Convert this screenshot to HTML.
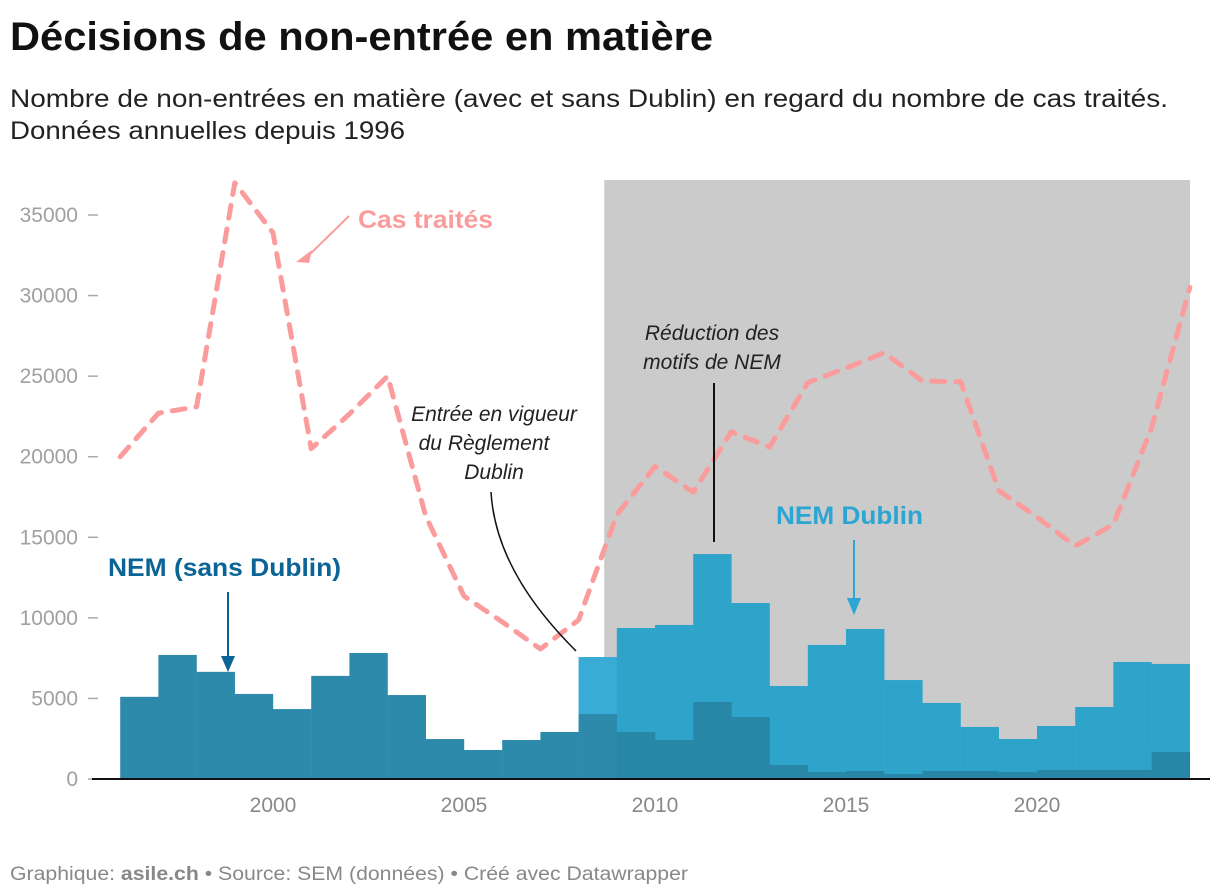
<!DOCTYPE html>
<html><head><meta charset="utf-8"><style>
body{margin:0;background:#fff;font-family:"Liberation Sans",sans-serif;}
</style></head><body>
<svg width="1220" height="896" style="display:block">
<text x="10" y="50" font-size="40" font-weight="bold" fill="#111" textLength="703" lengthAdjust="spacingAndGlyphs">Décisions de non-entrée en matière</text>
<text x="10" y="107" font-size="25" fill="#222" textLength="1158" lengthAdjust="spacingAndGlyphs">Nombre de non-entrées en matière (avec et sans Dublin) en regard du nombre de cas traités.</text>
<text x="10" y="139" font-size="25" fill="#222" textLength="395" lengthAdjust="spacingAndGlyphs">Données annuelles depuis 1996</text>
<g id="plot"></g>
<text x="10" y="880" font-size="19" fill="#888" textLength="678" lengthAdjust="spacingAndGlyphs">Graphique: <tspan font-weight="bold">asile.ch</tspan> • Source: SEM (données) • Créé avec Datawrapper</text>
</svg>
<script>
const years=[1996,1997,1998,1999,2000,2001,2002,2003,2004,2005,2006,2007,2008,2009,2010,2011,2012,2013,2014,2015,2016,2017,2018,2019,2020,2021,2022,2023];
const nemSansDublin=[5100,7700,6650,5280,4340,6400,7820,5210,2480,1800,2420,2920,4030,2920,2420,4780,3850,870,430,500,310,500,500,430,560,560,560,1680];
const nemTotal=[null,null,null,null,null,null,null,null,null,null,null,null,7570,9370,9560,13960,10920,5770,8320,9310,6140,4720,3230,2480,3290,4470,7260,7140];
const lineYears=[1996,1997,1998,1999,2000,2001,2002,2003,2004,2005,2006,2007,2008,2009,2010,2011,2012,2013,2014,2015,2016,2017,2018,2019,2020,2021,2022,2023,2024];
const casTraites=[20000,22700,23100,37000,33900,20500,22650,25000,16300,11350,9750,8070,9870,16400,19400,17800,21550,20600,24600,25500,26450,24700,24650,17900,16250,14460,15800,21800,30500];
const yTicks=[0,5000,10000,15000,20000,25000,30000,35000];
const xTicks=[2000,2005,2010,2015,2020];
const NS="http://www.w3.org/2000/svg";
const X=y=>273+(y-2000)*38.2;
const Y=v=>779-v*80.57/5000;
const g=document.getElementById('plot');
function mk(t,a,p){const e=document.createElementNS(NS,t);for(const k in a)e.setAttribute(k,a[k]);(p||g).appendChild(e);return e;}
let e=mk('rect',{x:X(2008.67),y:180,width:1190-X(2008.67),height:599,fill:'#cbcbcb'});


yTicks.forEach(t=>{
 let l=mk('line',{x1:88,x2:98,y1:Y(t),y2:Y(t),stroke:'#aaa','stroke-width':1.5});
 
 
 let tx=mk('text',{x:78,y:Y(t)+7,'text-anchor':'end','font-size':21,fill:'#a0a0a0'});tx.textContent=t;
 
 
});
xTicks.forEach(t=>{
 let tx=mk('text',{x:X(t),y:812,'text-anchor':'middle','font-size':21,fill:'#888'});tx.textContent=t;
 
 
});
years.forEach((yr,i)=>{
 if(nemTotal[i]!=null){
  let r=mk('rect',{x:X(yr),y:Y(nemTotal[i]),width:38.4,height:Y(0)-Y(nemTotal[i]),fill:yr<2009?'#38acd6':'#2ea4cb'});
  
  
 }
});
years.forEach((yr,i)=>{
 let r=mk('rect',{x:X(yr),y:Y(nemSansDublin[i]),width:38.4,height:Y(0)-Y(nemSansDublin[i]),fill:yr<2009?'#2e8aab':'#2886a6'});
 
 
});
let ax=mk('line',{x1:92,x2:1210,y1:779,y2:779,stroke:'#111','stroke-width':2});


let pl=mk('polyline',{points:lineYears.map((y,i)=>X(y)+','+Y(casTraites[i])).join(' '),fill:'none',stroke:'#fa9c9c','stroke-width':5,'stroke-dasharray':'13 11','stroke-linecap':'round','stroke-linejoin':'round'});


function lab(x,y,txt,fill,name,extra){const t=mk('text',Object.assign({x:x,y:y,fill:fill},extra||{}));t.textContent=txt;return t;}
lab(358,228,'Cas traités','#fa9c9c','label-cas-traites',{'font-size':25,'font-weight':'bold',textLength:135,lengthAdjust:'spacingAndGlyphs'});
lab(108,576,'NEM (sans Dublin)','#0b6396','label-nem-sans-dublin',{'font-size':25,'font-weight':'bold',textLength:233,lengthAdjust:'spacingAndGlyphs'});
lab(776,524,'NEM Dublin','#2aa5d4','label-nem-dublin',{'font-size':25,'font-weight':'bold',textLength:147,lengthAdjust:'spacingAndGlyphs'});
const it={'font-size':21,'font-style':'italic','text-anchor':'middle'};
lab(494,421,'Entrée en vigueur','#222','annotation-dublin-1',it);
lab(484,450,'du Règlement','#222','annotation-dublin-2',it);
lab(494,479,'Dublin','#222','annotation-dublin-3',it);
lab(712,340,'Réduction des','#222','annotation-reduction-1',it);
lab(712,369,'motifs de NEM','#222','annotation-reduction-2',it);
mk('line',{x1:349,y1:216,x2:305,y2:259,stroke:'#fa9c9c','stroke-width':2});
mk('polygon',{points:'296,262 312,250 309,263',fill:'#fa9c9c'});
mk('line',{x1:228,y1:592,x2:228,y2:662,stroke:'#0b6396','stroke-width':2});
mk('polygon',{points:'221,656 235,656 228,672',fill:'#0b6396'});
mk('line',{x1:854,y1:540,x2:854,y2:605,stroke:'#2aa5d4','stroke-width':2});
mk('polygon',{points:'847,598 861,598 854,615',fill:'#2aa5d4'});
mk('line',{x1:714,y1:383,x2:714,y2:542,stroke:'#111','stroke-width':2});
mk('path',{d:'M491,492 C495,560 540,615 576,651',fill:'none',stroke:'#111','stroke-width':1.5});
</script>
</body></html>
